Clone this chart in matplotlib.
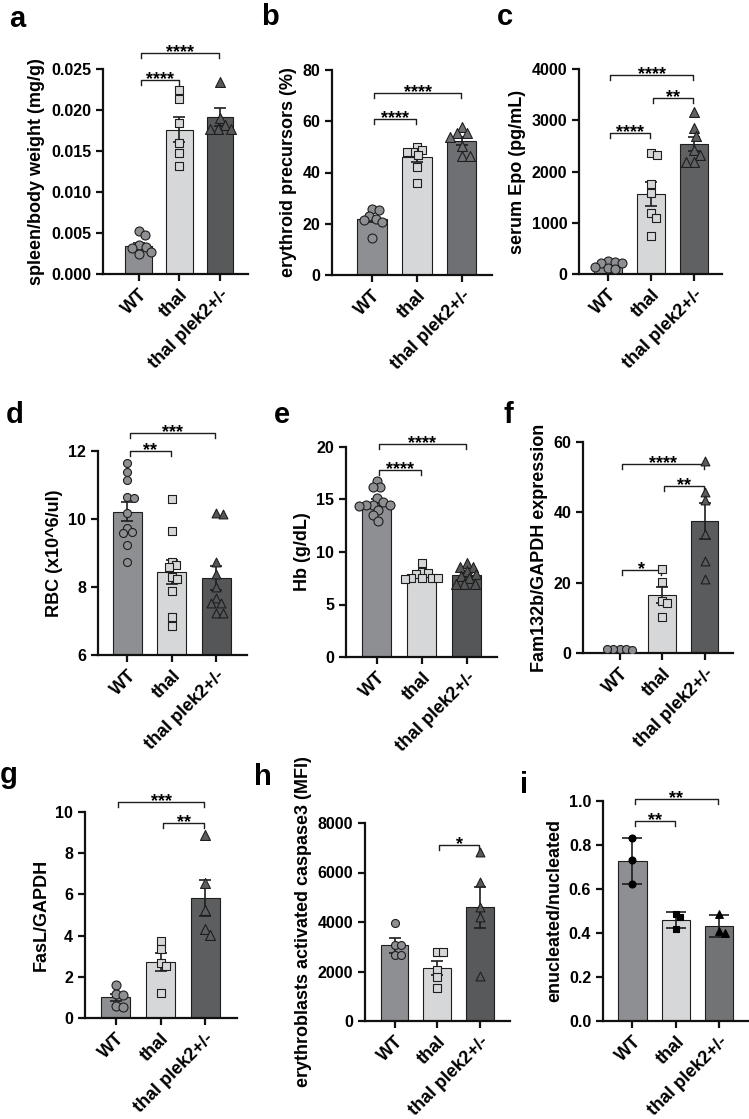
import numpy as np
import matplotlib
matplotlib.use("Agg")
import matplotlib.pyplot as plt
from matplotlib.transforms import offset_copy

plt.rcParams["font.family"] = ["Liberation Sans", "DejaVu Sans"]
plt.rcParams["font.weight"] = "bold"
plt.rcParams["axes.labelweight"] = "bold"

W, H = 749, 1119
groups = ["WT", "thal", "thal plek2+/-"]

# a - spleen/body weight
a_wt = [0.0052, 0.0048, 0.0035, 0.0033, 0.0032, 0.0027, 0.0025]
a_thal = [0.0225, 0.0214, 0.0184, 0.0160, 0.0147, 0.0132]
a_plek = [0.0234, 0.0190, 0.0182, 0.0177, 0.0177, 0.0177]
a_mean = [0.0034, 0.0176, 0.0191]
a_err = [0.0004, 0.0015, 0.0011]
a_sig = [(0, 1, 0.0237, "****"), (0, 2, 0.0269, "****")]

# b - erythroid precursors
b_wt = [25.8, 25.4, 23.2, 22.0, 21.5, 20.5, 14.6]
b_thal = [50.1, 48.8, 48.1, 48.1, 46.7, 42.3, 36.0]
b_plek = [57.9, 55.6, 55.4, 54.0, 50.5, 46.6, 46.6]
b_mean = [21.8, 45.9, 52.3]
b_err = [1.2, 1.9, 1.7]
b_sig = [(0, 1, 60.9, "****"), (0, 2, 70.9, "****")]

# c - serum Epo
c_wt = [254, 241, 221, 208, 143, 111, 91]
c_thal = [2354, 2322, 1756, 1587, 1184, 1099, 748]
c_plek = [3167, 2842, 2693, 2420, 2322, 2192, 2192]
c_mean = [180, 1565, 2540]
c_err = [25, 230, 140]
c_sig = [(0, 1, 2745, "****"), (1, 2, 3428, "**"), (0, 2, 3883, "****")]

# d - RBC
d_wt = [11.66, 11.37, 11.15, 10.66, 10.61, 10.19, 9.75, 9.63, 9.60, 9.24, 8.75]
d_thal = [10.58, 9.66, 8.75, 8.65, 8.60, 8.30, 8.25, 7.89, 7.13, 6.86]
d_plek = [10.19, 10.15, 8.75, 8.38, 8.00, 7.67, 7.52, 7.52, 7.25, 7.25]
d_mean = [10.22, 8.45, 8.27]
d_err = [0.28, 0.35, 0.36]
d_sig = [(0, 1, 12.0, "**"), (0, 2, 12.53, "***")]

# e - Hb
e_wt = [16.8, 16.2, 16.2, 15.1, 14.8, 14.5, 14.5, 14.5, 14.4, 14.0, 13.5, 13.0]
e_thal = [9.0, 8.1, 8.0, 7.9, 7.5, 7.5, 7.5, 7.5, 7.4]
e_plek = [9.0, 8.6, 8.6, 8.2, 7.9, 7.7, 7.5, 7.0, 7.0, 7.0]
e_mean = [14.7, 7.8, 7.8]
e_err = [0.35, 0.18, 0.22]
e_sig = [(0, 1, 17.8, "****"), (0, 2, 20.3, "****")]

# f - Fam132b/GAPDH
f_wt = [1.2, 1.1, 1.0, 1.0, 0.9]
f_thal = [23.9, 20.1, 14.7, 14.1, 10.3]
f_plek = [54.5, 45.7, 43.5, 33.9, 26.2, 21.0]
f_mean = [1.0, 16.6, 37.5]
f_err = [0.05, 2.3, 5.2]
f_sig = [(0, 1, 23.6, "*"), (1, 2, 47.6, "**"), (0, 2, 53.7, "****")]

# g - FasL/GAPDH
g_wt = [1.6, 1.15, 1.1, 0.6, 0.55]
g_thal = [3.74, 3.37, 2.69, 2.51, 1.21]
g_plek = [8.87, 6.55, 5.23, 4.34, 4.05]
g_mean = [1.0, 2.72, 5.81]
g_err = [0.18, 0.44, 0.88]
g_sig = [(0, 2, 10.49, "***"), (1, 2, 9.47, "**")]

# h - activated caspase3
h_wt = [3946, 3068, 3068, 2662, 2662]
h_thal = [2770, 2770, 2054, 1784, 1351]
h_plek = [6811, 5608, 4595, 4216, 1811]
h_mean = [3060, 2140, 4600]
h_err = [300, 280, 830]
h_sig = [(1, 2, 7122, "*")]

# i - enucleated/nucleated (mean +/- SD)
i_wt = [0.833, 0.730, 0.621]
i_thal = [0.485, 0.473, 0.417]
i_plek = [0.488, 0.408, 0.400]
i_mean = [0.728, 0.458, 0.432]
i_err = [0.106, 0.036, 0.049]
i_sig = [(0, 1, 0.909, "**"), (0, 2, 1.01, "**")]

WT_COL = "#8e8f92"
THAL_COL = "#d6d7d9"
EDGE = "#1e1e1e"

fig = plt.figure(figsize=(W / 100, H / 100), dpi=100)


def px_axes(left, top, right, bottom):
    return fig.add_axes([left / W, 1 - bottom / H, (right - left) / W, (bottom - top) / H])


def swarm(ax, x0, vals, diam):
    tr = ax.transData.transform
    ppx = tr((1, 0))[0] - tr((0, 0))[0]
    placed, xs = [], []
    for v in vals:
        y = tr((0, v))[1]
        cands = [0.0]
        for px, py in placed:
            dy = abs(y - py)
            if dy < diam:
                d = np.sqrt(diam ** 2 - dy ** 2)
                cands += [px + d, px - d]
        cands.sort(key=abs)
        for c in cands:
            if all((c - px) ** 2 + (y - py) ** 2 >= diam ** 2 - 1e-6 for px, py in placed):
                break
        placed.append((c, y))
        xs.append(x0 + c / ppx)
    return xs


def bracket(ax, i, j, y, label, span):
    leg = 5 / (ax.bbox.height) * span
    x0, x1 = i + 0.05, j - 0.02
    ax.plot([x0, x0, x1, x1], [y - leg, y, y, y - leg], color=EDGE, lw=1.0, clip_on=False)
    tr = offset_copy(ax.transData, fig=fig, y=-4, units="dots")
    ax.text((x0 + x1) / 2, y, label, transform=tr, ha="center", va="baseline",
            fontsize=13, fontweight="bold", clip_on=False)


def panel(box, xlim, ylim, yticks, fmt, ylabel, pts, means, errs, plek_col, sig,
          msize=9, cap=4, black=False):
    ax = px_axes(*box)
    ax.set_xlim(*xlim)
    ax.set_ylim(*ylim)
    x = np.arange(3)
    ax.bar(x, np.array(means) - ylim[0], bottom=ylim[0], width=0.65,
           color=[WT_COL, THAL_COL, plek_col], edgecolor=EDGE, linewidth=0.8, zorder=1)
    ax.errorbar(x, means, yerr=errs, fmt="none", ecolor=EDGE, elinewidth=1.2,
                capsize=cap, capthick=1.2, zorder=3)
    markers = ["o", "s", "^"]
    fills = [WT_COL, THAL_COL, plek_col]
    scale = [1.0, 0.88, 1.1]
    for k in range(3):
        d = msize * scale[k]
        xs = swarm(ax, k, pts[k], d * 0.8)
        ax.scatter(xs, pts[k], s=(d * 0.72) ** 2, marker=markers[k],
                   facecolor="black" if black else fills[k],
                   edgecolor="black" if black else EDGE, linewidth=0.8, zorder=4)
    ax.set_yticks(yticks)
    ax.set_yticklabels([fmt.format(t) for t in yticks], fontsize=11.5)
    ax.set_xticks(x)
    ax.set_xticklabels(groups, rotation=45, ha="right", rotation_mode="anchor", fontsize=13)
    for s in ["top", "right"]:
        ax.spines[s].set_visible(False)
    for s in ["left", "bottom"]:
        ax.spines[s].set_linewidth(1.6)
        ax.spines[s].set_color("#111111")
    ax.tick_params(width=1.6, length=5, color="#111111")
    ax.set_ylabel(ylabel, fontsize=13)
    span = ylim[1] - ylim[0]
    for i, j, y, lab in sig:
        bracket(ax, i, j, y, lab, span)
    return ax


panel((103, 69, 248, 274), (-0.87, 2.68), (0, 0.025), np.arange(0, 0.0251, 0.005), "{:.3f}",
      "spleen/body weight (mg/g)", [a_wt, a_thal, a_plek], a_mean, a_err, "#58595b", a_sig)
panel((332, 70, 492, 275), (-0.89, 2.67), (0, 80), [0, 20, 40, 60, 80], "{:.0f}",
      "erythroid precursors (%)", [b_wt, b_thal, b_plek], b_mean, b_err, "#6f7073", b_sig)
panel((579, 69, 722, 274), (-0.67, 2.65), (0, 4000), [0, 1000, 2000, 3000, 4000], "{:.0f}",
      "serum Epo (pg/mL)", [c_wt, c_thal, c_plek], c_mean, c_err, "#606163", c_sig)
panel((98, 451, 247, 655), (-0.66, 2.69), (6, 12), [6, 8, 10, 12], "{:.0f}",
      "RBC (x10^6/ul)", [d_wt, d_thal, d_plek], d_mean, d_err, "#555658", d_sig, msize=8)
panel((346, 447, 497, 657), (-0.69, 2.68), (0, 20), [0, 5, 10, 15, 20], "{:.0f}",
      "Hb (g/dL)", [e_wt, e_thal, e_plek], e_mean, e_err, "#555658", e_sig)
panel((583, 442, 733, 653), (-0.86, 2.67), (0, 60), [0, 20, 40, 60], "{:.0f}",
      "Fam132b/GAPDH expression", [f_wt, f_thal, f_plek], f_mean, f_err, "#5a5b5d", f_sig, msize=8)
panel((85, 812, 237, 1018), (-0.69, 2.71), (0, 10), [0, 2, 4, 6, 8, 10], "{:.0f}",
      "FasL/GAPDH", [g_wt, g_thal, g_plek], g_mean, g_err, "#5d5e60", g_sig)
panel((365, 823, 510, 1021), (-0.69, 2.70), (0, 8000), [0, 2000, 4000, 6000, 8000], "{:.0f}",
      "erythroblasts activated caspase3 (MFI)", [h_wt, h_thal, h_plek], h_mean, h_err,
      "#58595b", h_sig, msize=8)
panel((603, 801, 748, 1021), (-0.68, 2.67), (0, 1.0), [0, 0.2, 0.4, 0.6, 0.8, 1.0], "{:.1f}",
      "enucleated/nucleated", [i_wt, i_thal, i_plek], i_mean, i_err, "#727375", i_sig,
      msize=7, cap=7, black=True)

letters = ["a", "b", "c", "d", "e", "f", "g", "h", "i"]
letter_pos = [(9, 27), (261, 25), (497, 25), (6, 423), (274, 423), (504, 423),
              (0, 783), (254, 785), (520, 793)]
for lab, (lx, ly) in zip(letters, letter_pos):
    fig.text(lx / W, 1 - ly / H, lab, fontsize=21, fontweight="bold", va="baseline", ha="left")

fig.savefig("out.png", dpi=100)
